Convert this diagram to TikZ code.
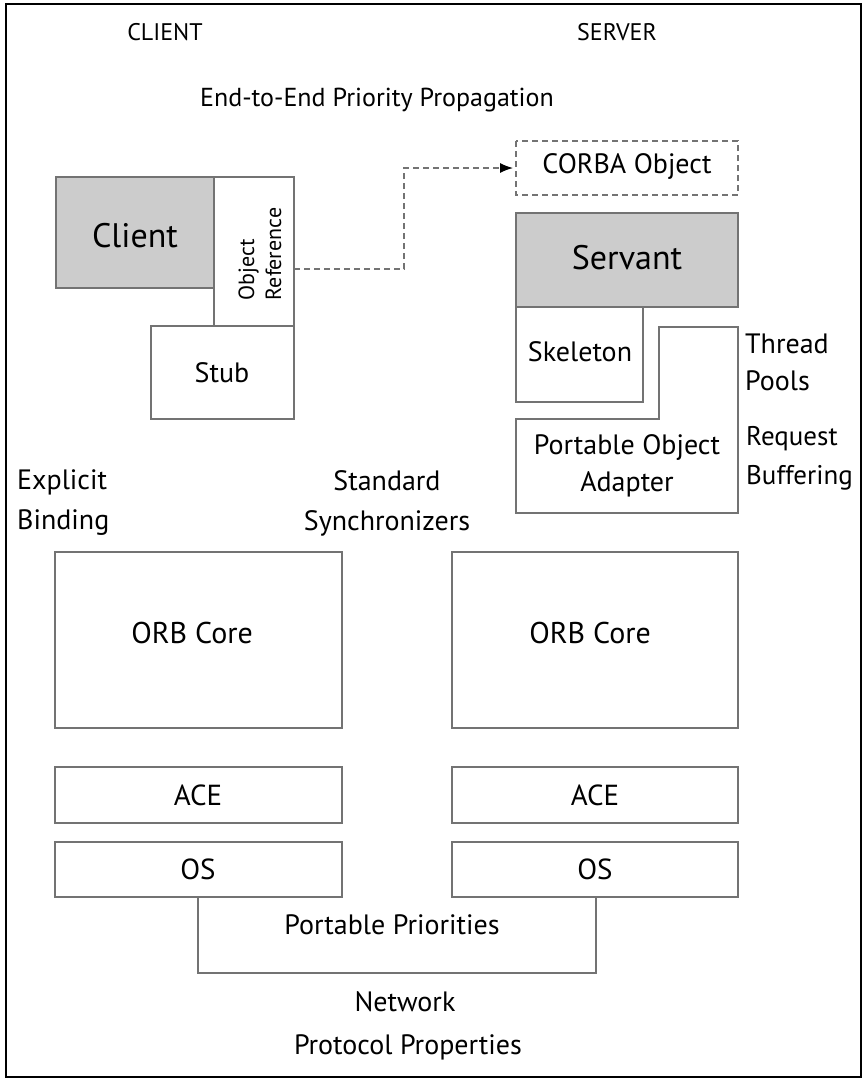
\documentclass[tikz,border=0pt]{standalone}
\usepackage{fontspec}
\setmainfont{PT Sans}
\usetikzlibrary{arrows.meta}
\definecolor{edge}{gray}{0.45}
\definecolor{shade}{gray}{0.8}
\tikzset{
  box/.style={draw=edge, line width=1.5pt},
  graybox/.style={box, fill=shade},
  dashbox/.style={draw=edge, line width=1.3pt, dash pattern=on 6pt off 4pt},
  lbl/.style={font=\fontsize{28}{33}\selectfont, inner sep=0pt},
  biglbl/.style={font=\fontsize{34}{38}\selectfont, inner sep=0pt},
  side/.style={font=\fontsize{28}{39}\selectfont, inner sep=0pt, align=left, anchor=west},
}
\begin{document}
\begin{tikzpicture}[x=1pt,y=-1pt]
\useasboundingbox (0,0) rectangle (866,1080);
% outer frame
\draw[line width=2.8pt] (6,4) rectangle (861,1077);
% headings
\node[lbl,font=\fontsize{24}{28}\selectfont] (cl) at (165,32) {CLIENT};
\node[lbl,font=\fontsize{24}{28}\selectfont] (sv) at (617,32) {SERVER};
\node[lbl,font=\fontsize{26}{30}\selectfont] (e2e) at (377,100) {End-to-End Priority Propagation};
% client side
\draw[graybox] (56,177) rectangle (214,288);
\node[biglbl] (client) at (135,236) {Client};
\draw[box] (214,177) rectangle (294,326);
\node[rotate=90,align=left,inner sep=0pt,font=\fontsize{22}{27}\selectfont] (objref) at (260,254) {Object\\Reference};
\coordinate (orE) at (294,269);
\draw[box] (151,326) rectangle (294,419);
\node[lbl] (stub) at (222,373) {Stub};
% server side
\draw[dashbox] (516,141) rectangle (738,195);
\node[lbl] (corba) at (627,166) {CORBA Object};
\coordinate (corbaW) at (516,168);
\draw[graybox] (516,213) rectangle (738,307);
\node[biglbl] (servant) at (627,258) {Servant};
\draw[box] (516,307) rectangle (643,402);
\node[lbl] (skel) at (580,352) {Skeleton};
\draw[box] (659,327) -- (738,327) -- (738,513) -- (516,513) -- (516,419) -- (659,419) -- cycle;
\node[lbl,align=center,font=\fontsize{28}{37}\selectfont] (poa) at (627,466) {Portable Object\\Adapter};
\node[side,font=\fontsize{28}{37}\selectfont] (tp) at (745,362) {Thread\\Pools};
\node[side,font=\fontsize{27}{39}\selectfont] (rb) at (746,458) {Request\\Buffering};
\node[side,font=\fontsize{28}{40}\selectfont] (eb) at (17,503) {Explicit\\Binding};
\node[side,align=center,anchor=center,font=\fontsize{28}{40}\selectfont] (ss) at (387,503) {Standard\\Synchronizers};
% dashed connector
\draw[dashbox, -{Latex[length=13pt,width=10pt,color=black]}, shorten >=3pt]
  (orE) -- (404,269) -- (404,168) -- (corbaW);
% ORB cores
\draw[box] (55,552) rectangle (342,728);
\node[lbl,font=\fontsize{30}{34}\selectfont] (orbL) at (192,633) {ORB Core};
\draw[box] (452,552) rectangle (738,728);
\node[lbl,font=\fontsize{30}{34}\selectfont] (orbR) at (590,633) {ORB Core};
% ACE
\draw[box] (55,767) rectangle (342,823);
\node[lbl,font=\fontsize{29}{34}\selectfont] (aceL) at (198,795) {ACE};
\draw[box] (452,767) rectangle (738,823);
\node[lbl,font=\fontsize{29}{34}\selectfont] (aceR) at (595,795) {ACE};
% OS
\draw[box] (55,842) rectangle (342,897);
\node[lbl,font=\fontsize{29}{34}\selectfont] (osL) at (198,869) {OS};
\draw[box] (452,842) rectangle (738,897);
\node[lbl,font=\fontsize{29}{34}\selectfont] (osR) at (595,869) {OS};
% portable priorities
\draw[box] (198,897) -- (198,973) -- (596,973) -- (596,897);
\node[lbl] (pp) at (392,925) {Portable Priorities};
\node[lbl] (net) at (405,1002) {Network};
\node[lbl] (ppr) at (408,1047) {Protocol Properties};
\end{tikzpicture}
\end{document}
